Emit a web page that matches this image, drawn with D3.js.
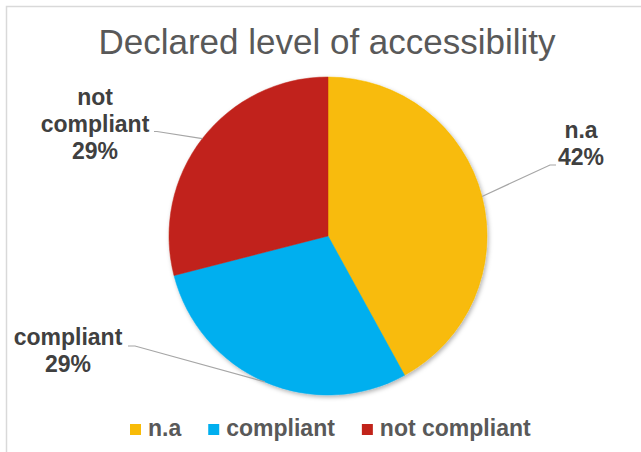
<!DOCTYPE html>
<html>
<head>
<meta charset="utf-8">
<script src="https://cdn.jsdelivr.net/npm/d3@7/dist/d3.min.js"></script>
<style>
  html, body { margin: 0; padding: 0; background: #ffffff; }
  svg { display: block; }
  text { font-family: "Liberation Sans", Arial, sans-serif; }
</style>
</head>
<body>
<svg id="chart" width="641" height="452"></svg>
<script>
// Declared level of accessibility — share of declarations per category
const categories = ["n.a", "compliant", "not compliant"];
const shares = [42, 29, 29];
const colors = ["#F8BB07", "#00AFEF", "#C1231A"];
const titleText = "Declared level of accessibility";

const W = 641, H = 452;
const cx = 328, cy = 236, radius = 159;

const svg = d3.select("#chart");

// soft shadow under the pie
const defs = svg.append("defs");
const f = defs.append("filter").attr("id", "pieShadow")
  .attr("x", "-10%").attr("y", "-10%").attr("width", "120%").attr("height", "120%");
f.append("feDropShadow").attr("dx", 1.5).attr("dy", 2).attr("stdDeviation", 2)
  .attr("flood-color", "#000").attr("flood-opacity", 0.3);

// chart frame (only the top and left edges fall inside the viewport)
svg.append("rect")
  .attr("x", 6.5).attr("y", 6.5)
  .attr("width", W + 20).attr("height", H + 20)
  .attr("fill", "none").attr("stroke", "#d9d9d9").attr("stroke-width", 1.5);

// title
svg.append("text")
  .attr("x", 327).attr("y", 54)
  .attr("text-anchor", "middle")
  .attr("font-size", 35)
  .attr("fill", "#595959")
  .text(titleText);

const data = categories.map((c, i) => ({ name: c, value: shares[i], color: colors[i] }));

const pie = d3.pie().sort(null).value(d => d.value);
const arcs = pie(data);
const arc = d3.arc().innerRadius(0).outerRadius(radius);

const g = svg.append("g").attr("transform", `translate(${cx},${cy})`);

g.append("g").attr("filter", "url(#pieShadow)")
  .selectAll("path")
  .data(arcs)
  .join("path")
  .attr("d", arc)
  .attr("fill", d => d.data.color)
  .attr("stroke", d => d.data.color)
  .attr("stroke-width", 0.5);

// data label placement (relative to pie centre): text centre x, first baseline y,
// and the label-side leader points (label end, elbow)
const labelLayout = {
  "n.a":           { x: 253, y: -98,  lines: 2, leader: [[228, -71], [222, -71]] },
  "compliant":     { x: -260, y: 109, lines: 2, leader: [[-200, 110], [-193, 110]] },
  "not compliant": { x: -233, y: -131, lines: 3, leader: [[-174, -104.5], [-171, -104.5]] }
};

const lineGap = 27;
const fmt = d3.format(".0f");
const leaderLine = d3.line();

arcs.forEach(a => {
  const L = labelLayout[a.data.name];
  const mid = (a.startAngle + a.endAngle) / 2;
  const edge = [Math.sin(mid) * radius, -Math.cos(mid) * radius];

  // leader: pie edge -> elbow -> label
  g.append("path")
    .attr("d", leaderLine([edge, L.leader[1], L.leader[0]]))
    .attr("fill", "none").attr("stroke", "#a6a6a6").attr("stroke-width", 1.2);

  const nameLines = L.lines === 3 ? a.data.name.split(" ") : [a.data.name];
  const allLines = nameLines.concat([fmt(a.data.value) + "%"]);
  const t = g.append("text")
    .attr("text-anchor", "middle")
    .attr("font-size", 23)
    .attr("font-weight", "bold")
    .attr("fill", "#404040");
  allLines.forEach((s, i) => {
    t.append("tspan").attr("x", L.x).attr("y", L.y + i * lineGap).text(s);
  });
});

// legend
const legend = svg.append("g").attr("transform", "translate(0,436)");
let lx = 130;
data.forEach(d => {
  legend.append("rect")
    .attr("x", lx).attr("y", -12).attr("width", 11).attr("height", 11)
    .attr("fill", d.color);
  const t = legend.append("text")
    .attr("x", lx + 18).attr("y", 0)
    .attr("font-size", 23).attr("font-weight", "bold")
    .attr("fill", "#595959")
    .text(d.name);
  lx += 18 + t.node().getComputedTextLength() + 27;
});
</script>
</body>
</html>
